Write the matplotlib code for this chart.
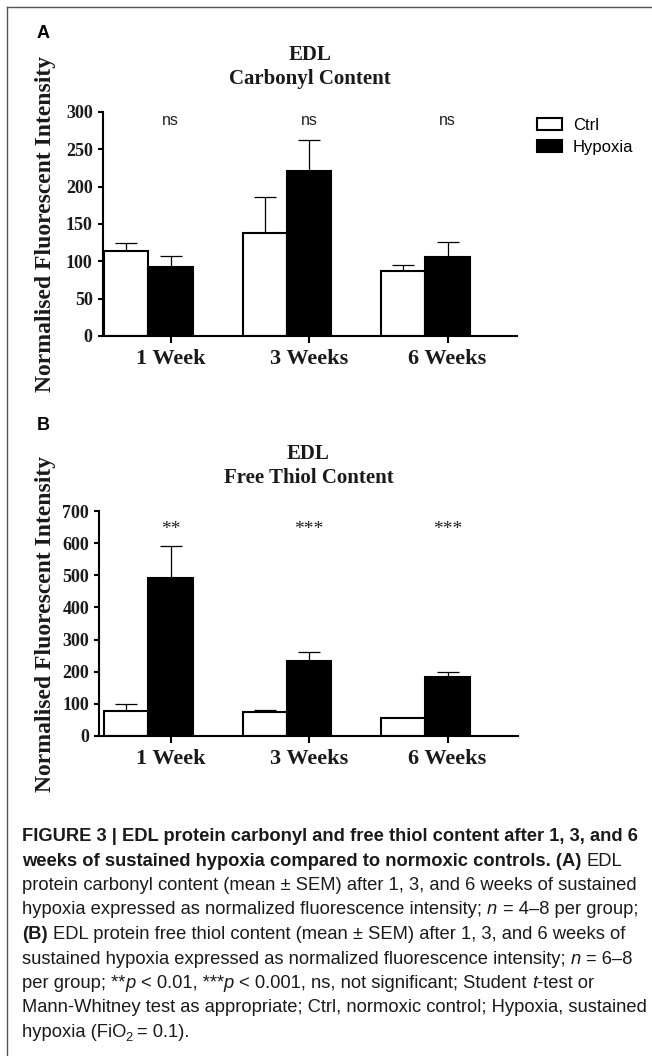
import numpy as np
import matplotlib
matplotlib.use("Agg")
import matplotlib.pyplot as plt
from matplotlib.patches import Patch

# figure size in pixels (dpi 100)
W, H = 652, 1056
DPI = 100

weeks = ["1 Week", "3 Weeks", "6 Weeks"]
groups = ["Ctrl", "Hypoxia"]

# Panel A - carbonyl content (mean, upper SEM)
carb_ctrl = [114, 138, 87]
carb_ctrl_sem = [11, 48, 8]
carb_hyp = [93, 221, 106]
carb_hyp_sem = [14, 42, 20]
carb_sig = ["ns", "ns", "ns"]

# Panel B - free thiol content (mean, upper SEM)
thiol_ctrl = [78, 75, 55]
thiol_ctrl_sem = [22, 7, 2]
thiol_hyp = [491, 232, 185]
thiol_hyp_sem = [100, 29, 13]
thiol_sig = ["**", "***", "***"]

SERIF = "Liberation Serif"
SANS = "Liberation Sans"


def fx(x):
    return x / W


def fy(y):
    return 1 - y / H


fig = plt.figure(figsize=(W / DPI, H / DPI), dpi=DPI)
fig.patch.set_facecolor("white")

# frame lines (top and left) of the cropped page
fig.add_artist(plt.Line2D([fx(7), fx(7)], [fy(6.5), 0], color="#555555", lw=1.0))
fig.add_artist(plt.Line2D([fx(7), 1], [fy(6.5), fy(6.5)], color="#555555", lw=1.0))


# Function: bar_panel
# draws one grouped bar panel (Ctrl open, Hypoxia filled, SEM up only)
def bar_panel(ax, ctrl, ctrl_sem, hyp, hyp_sem, sig, ymax, ystep, sig_y, title, x_left_px, ax_w_px):
    g = np.arange(len(weeks))
    w = 0.318  # bar width in group units
    spacing_px = 138.5
    left = (x_left_px - 170.5) / spacing_px
    ax.set_xlim(left, left + ax_w_px / spacing_px)
    ax.set_ylim(0, ymax)

    ax.errorbar(g - w, ctrl, yerr=[np.zeros(len(g)), ctrl_sem], fmt="none", ecolor="black",
                elinewidth=0.9, capsize=8, capthick=0.9, zorder=1)
    ax.errorbar(g, hyp, yerr=[np.zeros(len(g)), hyp_sem], fmt="none", ecolor="black",
                elinewidth=0.9, capsize=8, capthick=0.9, zorder=1)
    ax.bar(g - w, ctrl, w, color="white", edgecolor="black", linewidth=1.5, zorder=2)
    ax.bar(g, hyp, w, color="black", edgecolor="black", linewidth=1.5, zorder=2)

    for i, s in enumerate(sig):
        if s == "ns":
            ax.text(g[i], sig_y, s, ha="center", va="center", fontsize=11.5, family=SANS, color="#222222")
        else:
            ax.text(g[i], sig_y, s, ha="center", va="center", fontsize=14, family=SERIF, color="#222222")

    for side in ["top", "right"]:
        ax.spines[side].set_visible(False)
    for side in ["left", "bottom"]:
        ax.spines[side].set_linewidth(1.5)

    ax.set_yticks(np.arange(0, ymax + 1, ystep))
    ax.set_xticks(g)
    ax.set_xticklabels(weeks)
    ax.tick_params(axis="y", length=3.6, width=1.5, pad=3.5, labelsize=13)
    ax.tick_params(axis="x", length=5, width=1.5, pad=4.5, labelsize=16)
    for lab in ax.get_yticklabels() + ax.get_xticklabels():
        lab.set_family(SERIF)
        lab.set_fontweight("bold")
        lab.set_color("#1a1a1a")

    ax.set_title(title, fontsize=15, family=SERIF, fontweight="bold", pad=20, linespacing=1.3,
                 color="#1a1a1a")
    ax.set_ylabel("Normalised Fluorescent Intensity", fontsize=17, family=SERIF,
                  fontweight="bold", color="#1a1a1a")
    ax.yaxis.set_label_coords((56 - x_left_px) / ax_w_px, 0.5)


# panel A axes: x 102.5..517 px, y 112..336 px
ax_a = fig.add_axes([fx(102.5), fy(336), (517 - 102.5) / W, (336 - 112) / H])
bar_panel(ax_a, carb_ctrl, carb_ctrl_sem, carb_hyp, carb_hyp_sem, carb_sig, 300, 50, 289,
          "EDL\nCarbonyl Content", 102.5, 517 - 102.5)

# panel B axes: x 99..518 px, y 511..736 px
ax_b = fig.add_axes([fx(99), fy(736), (518 - 99) / W, (736 - 511) / H])
bar_panel(ax_b, thiol_ctrl, thiol_ctrl_sem, thiol_hyp, thiol_hyp_sem, thiol_sig, 700, 100, 641,
          "EDL\nFree Thiol Content", 99, 518 - 99)

# legend for panel A
handles = [Patch(facecolor="white", edgecolor="black", linewidth=1.5),
           Patch(facecolor="black", edgecolor="black", linewidth=1.5)]
fig.legend(handles, groups, loc="upper left", bbox_to_anchor=(fx(537), fy(118)), frameon=False,
           borderpad=0, borderaxespad=0, handlelength=1.5, handleheight=0.72, handletextpad=0.66,
           labelspacing=0.4, prop=dict(family=SANS, size=12))

# panel letters
fig.text(fx(37), fy(38.5), "A", family=SANS, weight="bold", fontsize=13, va="baseline")
fig.text(fx(37), fy(430), "B", family=SANS, weight="bold", fontsize=13, va="baseline")

# caption, drawn segment by segment so bold / italic / subscript can mix in a line
caption = [
    [("FIGURE 3 | EDL protein carbonyl and free thiol content after 1, 3, and 6", "b")],
    [("weeks of sustained hypoxia compared to normoxic controls. (A)", "b"), (" EDL", "r")],
    [("protein carbonyl content (mean \u00b1 SEM) after 1, 3, and 6 weeks of sustained", "r")],
    [("hypoxia expressed as normalized fluorescence intensity; ", "r"), ("n", "i"),
     (" = 4\u20138 per group;", "r")],
    [("(B)", "b"), (" EDL protein free thiol content (mean \u00b1 SEM) after 1, 3, and 6 weeks of", "r")],
    [("sustained hypoxia expressed as normalized fluorescence intensity; ", "r"), ("n", "i"),
     (" = 6\u20138", "r")],
    [("per group; **", "r"), ("p", "i"), (" < 0.01, ***", "r"), ("p", "i"),
     (" < 0.001, ns, not significant; Student ", "r"), ("t", "i"), ("-test or", "r")],
    [("Mann-Whitney test as appropriate; Ctrl, normoxic control; Hypoxia, sustained", "r")],
    [("hypoxia (FiO", "r"), ("2", "sub"), (" = 0.1).", "r")],
]

renderer = fig.canvas.get_renderer()


def text_width(s, **kw):
    t = fig.text(0, 0, s, **kw)
    wpx = t.get_window_extent(renderer).width
    t.remove()
    return wpx


# fit caption size so the full regular line spans the measured width
cap_size = 11.0
cap_size = cap_size * 614 / text_width(caption[2][0][0], family=SANS, fontsize=cap_size)
space_w = text_width("x x", family=SANS, fontsize=cap_size) - text_width("xx", family=SANS, fontsize=cap_size)


def draw_line(x_px, base_px, parts):
    x = x_px
    for s, style in parts:
        kw = dict(family=SANS, fontsize=cap_size, va="baseline", ha="left", color="#1a1a1a")
        y = base_px
        if style == "b":
            kw["weight"] = "bold"
        elif style == "i":
            kw["style"] = "italic"
        elif style == "sub":
            kw["fontsize"] = cap_size * 0.7
            y = base_px + 4
            x -= 1.5
        if s.startswith(" "):
            x += space_w
            s = s.lstrip(" ")
        trail = s.endswith(" ")
        s = s.rstrip(" ")
        t = fig.text(fx(x), fy(y), s, **kw)
        x = t.get_window_extent(renderer).x1
        if trail:
            x += space_w


base0 = 841
line_step = 24.5
for k, parts in enumerate(caption):
    draw_line(22, base0 + k * line_step, parts)

fig.savefig("out.png", dpi=DPI)
